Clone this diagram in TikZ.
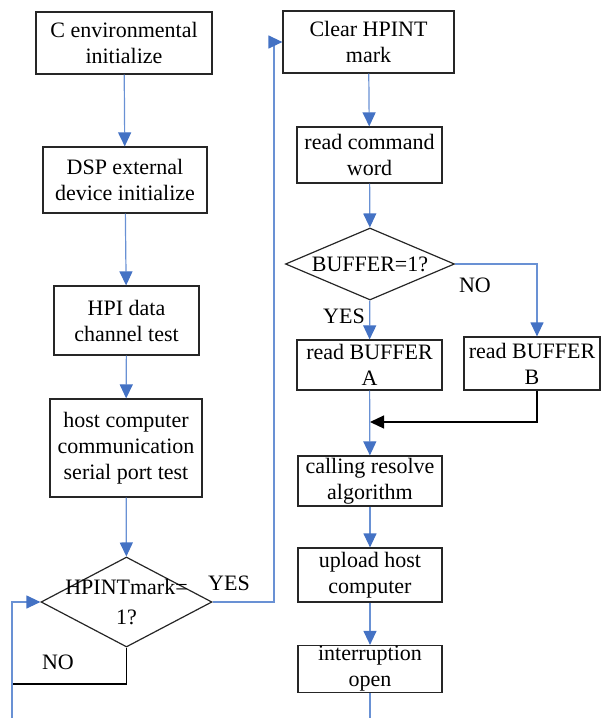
\documentclass[tikz,border=0pt]{standalone}
\usepackage{fontspec}
\setmainfont{Liberation Serif}
\usetikzlibrary{shapes.geometric,arrows.meta}
\definecolor{flowblue}{RGB}{68,114,196}
\definecolor{lineblue}{RGB}{105,145,212}

\begin{document}
\begin{tikzpicture}[x=0.5pt,y=-0.5pt,
	box/.style={draw=black!85,line width=0.6pt,inner sep=0pt,align=center,font=\fontsize{11}{13}\selectfont},
	dec/.style={box,diamond,aspect=2},
	flow/.style={lineblue,line width=0.6pt,-{Triangle[width=6.5pt,length=7pt,color=flowblue]}},
	back/.style={black,line width=0.6pt,-{Triangle[width=6.5pt,length=7pt]}},
	lbl/.style={inner sep=0pt,font=\fontsize{11}{13}\selectfont}]
\useasboundingbox (0,0) rectangle (601,718);

% left column
\node[box,minimum width=88pt,minimum height=31pt] (cenv) at (124,43) {C environmental\\initialize};
\node[box,minimum width=82pt,minimum height=33pt] (dsp) at (125,180) {DSP external\\device initialize};
\node[box,minimum width=72.5pt,minimum height=34.5pt] (hpi) at (126.5,320.5) {HPI data\\channel test};
\node[box,minimum width=76pt,minimum height=49pt] (host) at (126,448) {host computer\\communication\\serial port test};
\node[dec,minimum width=85.5pt,minimum height=45pt] (hpint) at (126.5,602) {\makebox[0pt]{HPINTmark=}\\[2pt]\makebox[0pt]{1?}};

% right column
\node[box,minimum width=85.5pt,minimum height=31pt] (clr) at (368.5,42) {Clear HPINT\\mark};
\node[box,minimum width=72.5pt,minimum height=28pt] (cmd) at (369.5,155) {read command\\word};
\node[dec,minimum width=84.5pt,minimum height=36pt] (bufd) at (370,264) {\makebox[0pt]{BUFFER=1?}};
\node[box,minimum width=72.5pt,minimum height=25pt] (bufa) at (369.5,365) {read BUFFER\\A};
\node[box,minimum width=68pt,minimum height=26.5pt] (bufb) at (532,363.5) {read BUFFER\\B};
\node[box,minimum width=72pt,minimum height=25pt] (calc) at (370,481) {calling resolve\\algorithm};
\node[box,minimum width=72pt,minimum height=27pt] (upl) at (370,575) {upload host\\computer};
\node[box,minimum width=72pt,minimum height=23.5pt] (intr) at (370,669) {interruption\\open};

% labels
\node[lbl] (yes1) at (229,583) {YES};
\node[lbl] (no1) at (58,662) {NO};
\node[lbl] (yes2) at (344,316) {YES};
\node[lbl] (no2) at (475,285) {NO};

\coordinate (turn) at (274,0);
\coordinate (loopend) at (12,684);
\coordinate (loopin) at (12,718);
\coordinate (join) at (370,422);
\coordinate (out) at (370,718);

\path[flow]
(cenv) edge (dsp)
(dsp) edge (hpi)
(hpi) edge (host)
(host) edge (hpint)
(clr) edge (cmd)
(cmd) edge (bufd)
(bufd) edge (bufa)
(bufa) edge (calc)
(calc) edge (upl)
(upl) edge (intr);

\draw[flow] (hpint.east) -- (hpint.east -| turn) |- (clr.west);
\draw[black,line width=0.6pt] (hpint.south) |- (loopend);
\draw[flow] (loopin) |- (hpint.west);
\draw[flow] (bufd.east) -| ([xshift=2.5pt]bufb.north);
\draw[back] ([xshift=2.5pt]bufb.south) |- (join);
\draw[lineblue,line width=0.6pt] (intr) -- (out);
\end{tikzpicture}
\end{document}
